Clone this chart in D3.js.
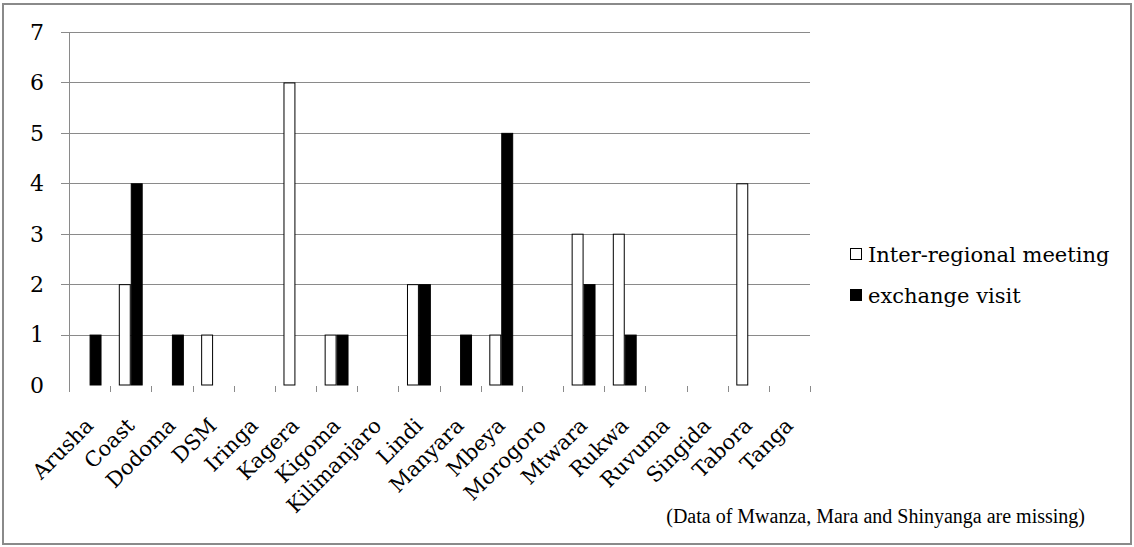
<!DOCTYPE html>
<html><head><meta charset="utf-8">
<script src="https://cdn.jsdelivr.net/npm/d3@7"></script>
<style>body{margin:0;background:#fff}svg{display:block}</style>
</head><body>
<script>
const categories = ["Arusha","Coast","Dodoma","DSM","Iringa","Kagera","Kigoma","Kilimanjaro","Lindi","Manyara","Mbeya","Morogoro","Mtwara","Rukwa","Ruvuma","Singida","Tabora","Tanga"];
const seriesNames = ["Inter-regional meeting","exchange visit"];
const interRegional = [0,2,0,1,0,6,1,0,2,0,1,0,3,3,0,0,4,0];
const exchangeVisit = [1,4,1,0,0,0,1,0,2,1,5,0,2,1,0,0,0,0];
const yTicks = [0,1,2,3,4,5,6,7];
const note = "(Data of Mwanza, Mara and Shinyanga are missing)";

const W=1134,H=547;
const svg=d3.select("body").append("svg").attr("width",W).attr("height",H);
svg.append("rect").attr("x",3).attr("y",4).attr("width",1128).attr("height",540)
  .attr("fill","#fff").attr("stroke","#8a8a8a").attr("stroke-width",2);

const pL=69,pR=810,pT=32,pB=385;
const x=d3.scaleBand().domain(categories).range([pL,pR]).paddingInner(0.42).paddingOuter(0.21);
const xs=d3.scaleBand().domain(seriesNames).range([0,x.bandwidth()]);
const y=d3.scaleLinear().domain([0,7]).range([pB,pT]);
const serif="'DejaVu Serif', serif";

// gridlines with left ticks
svg.append("g").selectAll("line").data(yTicks.filter(d=>d>0)).join("line")
  .attr("x1",61).attr("x2",pR).attr("y1",d=>Math.round(y(d))+0.5).attr("y2",d=>Math.round(y(d))+0.5)
  .attr("stroke","#8a8a8a").attr("stroke-width",1);
// y axis line
svg.append("line").attr("x1",pL+0.5).attr("x2",pL+0.5).attr("y1",pT).attr("y2",pB+7).attr("stroke","#8a8a8a");
// category boundary ticks
const bounds=d3.range(categories.length+1).map(i=>pL+i*(pR-pL)/categories.length);
svg.append("g").selectAll("line").data(bounds).join("line")
  .attr("x1",d=>Math.round(d)+0.5).attr("x2",d=>Math.round(d)+0.5).attr("y1",pB+1).attr("y2",pB+7)
  .attr("stroke","#8a8a8a");

// y labels
svg.append("g").selectAll("text").data(yTicks).join("text")
  .attr("x",44).attr("y",d=>y(d)).attr("dy","0.36em").attr("text-anchor","end")
  .attr("font-family",serif).attr("font-size",22).attr("fill","#000").text(d=>d);

// bars
const data=[interRegional,exchangeVisit];
const fills=["#fff","#000"];
data.forEach((arr,si)=>{
  svg.append("g").selectAll("rect").data(arr.map((v,i)=>({v,c:categories[i]})).filter(d=>d.v>0)).join("rect")
    .attr("x",d=>x(d.c)+xs(seriesNames[si])+0.5)
    .attr("y",d=>y(d.v)+0.5)
    .attr("width",xs.bandwidth()-1)
    .attr("height",d=>y(0)-y(d.v)-0.5)
    .attr("fill",fills[si]).attr("stroke","#000").attr("stroke-width",1);
});

// x labels
svg.append("g").selectAll("text").data(categories).join("text")
  .attr("transform",d=>`translate(${x(d)+x.bandwidth()/2+5},${427}) rotate(-45)`)
  .attr("text-anchor","end")
  .attr("font-family",serif).attr("font-size",21).attr("fill","#000").text(d=>d);

// legend
const lg=svg.append("g");
seriesNames.forEach((n,i)=>{
  const ly=254+i*41;
  lg.append("rect").attr("x",850.5).attr("y",ly-5.5).attr("width",11).attr("height",11)
    .attr("fill",fills[i]).attr("stroke","#000");
  lg.append("text").attr("x",868).attr("y",ly).attr("dy","0.36em")
    .attr("font-family",serif).attr("font-size",21).attr("fill","#000").text(n);
});

svg.append("text").attr("x",1085).attr("y",523).attr("text-anchor","end")
  .attr("font-family","'Liberation Serif', serif").attr("font-size",20).attr("fill","#000").text(note);
</script>
</body></html>
